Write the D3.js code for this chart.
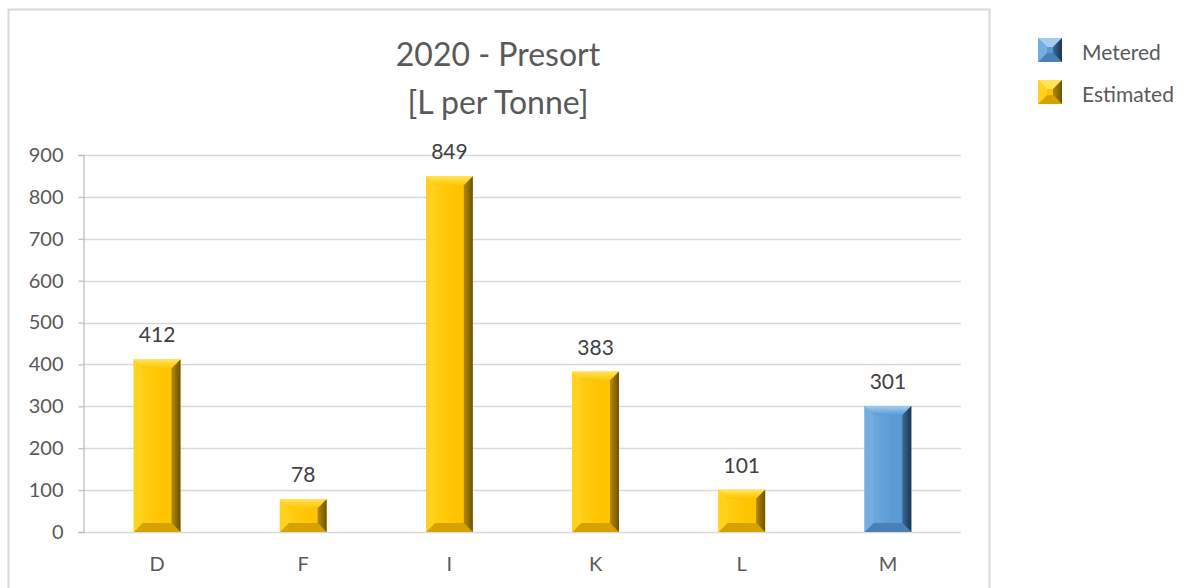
<!DOCTYPE html>
<html>
<head>
<meta charset="utf-8">
<script src="https://cdn.jsdelivr.net/npm/d3@7/dist/d3.min.js"></script>
<style>
  html, body { margin: 0; padding: 0; background: #fff; }
  svg { display: block; font-family: Lato, "Open Sans", sans-serif; }
</style>
</head>
<body>
<svg id="chart" width="1186" height="588"></svg>
<script>
// Data
const categories = ["D", "F", "I", "K", "L", "M"];
const values = [412, 78, 849, 383, 101, 301];
const seriesOf = ["Estimated", "Estimated", "Estimated", "Estimated", "Estimated", "Metered"];
const legendSeries = ["Metered", "Estimated"];
const yTicks = [0, 100, 200, 300, 400, 500, 600, 700, 800, 900];
const titleLines = ["2020 - Presort", "[L per Tonne]"];

// Colour sets for bevelled bars: base, top, left, right, bottom facets
const palette = {
  Estimated: { base: "#FFC400", top: "#FFE45A", left: "#FFD21E", right: "#6E5200", rightLight: "#B58A00", bottom: "#D6A200" },
  Metered:   { base: "#5B9BD5", top: "#A5CDF2", left: "#73ADE2", right: "#1C3550", rightLight: "#3A6A99", bottom: "#4A80B4" }
};

const svg = d3.select("#chart");
const textColor = "#595959";

// Chart frame
svg.append("rect")
  .attr("x", 8.5).attr("y", 9.5).attr("width", 981).attr("height", 590)
  .attr("fill", "#fff").attr("stroke", "#D9D9D9").attr("stroke-width", 2);

const plot = { left: 83, right: 961, top: 155, bottom: 532 };

const x = d3.scaleBand().domain(categories)
  .range([plot.left + 1, plot.right]).paddingInner(0.68).paddingOuter(0.34);
const y = d3.scaleLinear().domain([0, 900]).range([plot.bottom, plot.top]);

// Gradients
const defs = svg.append("defs");
Object.entries(palette).forEach(([name, c]) => {
  const g = defs.append("linearGradient").attr("id", "right-" + name)
    .attr("x1", "0").attr("x2", "1").attr("y1", "0").attr("y2", "0");
  g.append("stop").attr("offset", "0").attr("stop-color", c.rightLight);
  g.append("stop").attr("offset", "1").attr("stop-color", c.right);
  const t = defs.append("linearGradient").attr("id", "top-" + name)
    .attr("x1", "0").attr("x2", "0").attr("y1", "0").attr("y2", "1");
  t.append("stop").attr("offset", "0").attr("stop-color", c.top);
  t.append("stop").attr("offset", "1").attr("stop-color", c.base);
  const b = defs.append("linearGradient").attr("id", "base-" + name)
    .attr("x1", "0").attr("x2", "1").attr("y1", "0").attr("y2", "0");
  b.append("stop").attr("offset", "0").attr("stop-color", c.left);
  b.append("stop").attr("offset", "0.6").attr("stop-color", c.base);
  b.append("stop").attr("offset", "1").attr("stop-color", c.base);
});

// Gridlines
svg.append("g").selectAll("line").data(yTicks).join("line")
  .attr("x1", plot.left).attr("x2", plot.right)
  .attr("y1", d => Math.round(y(d)) + 0.5).attr("y2", d => Math.round(y(d)) + 0.5)
  .attr("stroke", "#D9D9D9").attr("stroke-width", 1.3);

// Y axis
const yAxis = svg.append("g").attr("transform", `translate(${plot.left + 0.5},0)`)
  .call(d3.axisLeft(y).tickValues(yTicks).tickSize(5).tickPadding(15));
yAxis.select(".domain").attr("stroke", "#BFBFBF").attr("stroke-width", 1.3);
yAxis.selectAll(".tick line").attr("stroke", "#BFBFBF").attr("stroke-width", 1.3);
yAxis.selectAll(".tick text").attr("fill", textColor).style("font-size", "20px")
  .style("font-family", "Lato, sans-serif");

// X axis labels
const xAxis = svg.append("g").attr("transform", `translate(0,${plot.bottom})`)
  .call(d3.axisBottom(x).tickSize(0).tickPadding(25));
xAxis.select(".domain").remove();
xAxis.selectAll(".tick text").attr("fill", textColor).style("font-size", "20px")
  .style("font-family", "Lato, sans-serif");

// Bevelled bars
const bev = 9;
const bars = svg.append("g").selectAll("g").data(categories.map((c, i) => ({
  cat: c, value: values[i], series: seriesOf[i]
}))).join("g");

bars.each(function(d) {
  const g = d3.select(this);
  const c = palette[d.series];
  const x0 = x(d.cat), x1 = x0 + x.bandwidth();
  const y0 = y(d.value), y1 = y(0);
  const b = Math.min(bev, (y1 - y0) / 2.6);
  g.append("rect").attr("x", x0).attr("y", y0).attr("width", x1 - x0).attr("height", y1 - y0)
    .attr("fill", `url(#base-${d.series})`);
  // top facet
  g.append("polygon").attr("points", [[x0, y0], [x1, y0], [x1 - b, y0 + b], [x0 + b, y0 + b]].join(" "))
    .attr("fill", `url(#top-${d.series})`);
  // bottom facet
  g.append("polygon").attr("points", [[x0, y1], [x1, y1], [x1 - b, y1 - b], [x0 + b, y1 - b]].join(" "))
    .attr("fill", c.bottom);
  // left facet
  g.append("polygon").attr("points", [[x0, y0], [x0 + b, y0 + b], [x0 + b, y1 - b], [x0, y1]].join(" "))
    .attr("fill", c.left);
  // right facet
  g.append("polygon").attr("points", [[x1, y0], [x1 - b, y0 + b], [x1 - b, y1 - b], [x1, y1]].join(" "))
    .attr("fill", `url(#right-${d.series})`);
});

// Value labels
bars.append("text")
  .attr("x", d => x(d.cat) + x.bandwidth() / 2)
  .attr("y", d => y(d.value) - 17)
  .attr("text-anchor", "middle")
  .attr("fill", "#404040").style("font-size", "21px")
  .text(d => d.value);

// Title
svg.append("g").selectAll("text").data(titleLines).join("text")
  .attr("x", 498).attr("y", (d, i) => 66 + i * 48)
  .attr("text-anchor", "middle").attr("fill", textColor)
  .style("font-size", "32px").text(d => d);

// Legend
const legend = svg.append("g").selectAll("g").data(legendSeries).join("g")
  .attr("transform", (d, i) => `translate(1038,${38 + i * 42})`);
legend.each(function(s) {
  const g = d3.select(this);
  const c = palette[s];
  const w = 24, b = 9;
  g.append("rect").attr("width", w).attr("height", w).attr("fill", c.base);
  g.append("polygon").attr("points", [[0, 0], [w, 0], [w - b, b], [b, b]].join(" ")).attr("fill", c.top);
  g.append("polygon").attr("points", [[0, w], [w, w], [w - b, w - b], [b, w - b]].join(" ")).attr("fill", c.bottom);
  g.append("polygon").attr("points", [[0, 0], [b, b], [b, w - b], [0, w]].join(" ")).attr("fill", c.left);
  g.append("polygon").attr("points", [[w, 0], [w - b, b], [w - b, w - b], [w, w]].join(" ")).attr("fill", `url(#right-${s})`);
  g.append("text").attr("x", 44).attr("y", 22).attr("fill", textColor)
    .style("font-size", "21px").text(s);
});
</script>
</body>
</html>
